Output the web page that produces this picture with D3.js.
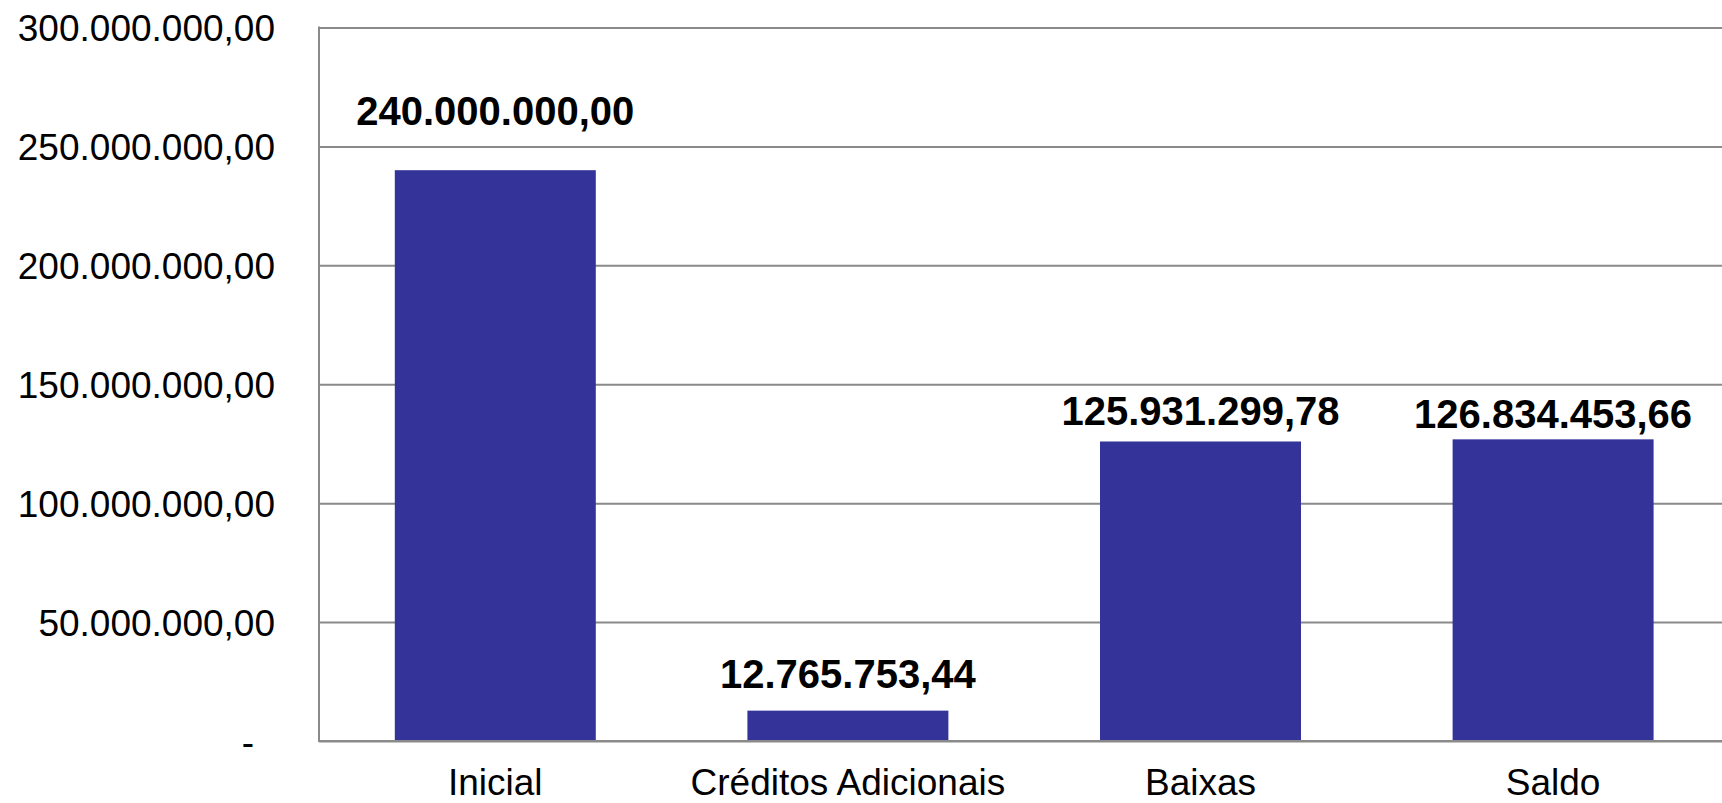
<!DOCTYPE html>
<html>
<head>
<meta charset="utf-8">
<script src="https://cdn.jsdelivr.net/npm/d3@7"></script>
<style>
  body { margin: 0; background: #fff; }
  svg { display: block; }
</style>
</head>
<body>
<svg width="1722" height="803"></svg>
<script>
// chart data
const categories = ["Inicial", "Créditos Adicionais", "Baixas", "Saldo"];
const values = [240000000.0, 12765753.44, 125931299.78, 126834453.66];
const yTicks = [0, 50000000, 100000000, 150000000, 200000000, 250000000, 300000000];

// brazilian number format
const locale = d3.formatLocale({
  decimal: ",",
  thousands: ".",
  grouping: [3],
  currency: ["R$", ""],
});
const fmt = locale.format(",.2f");

//selecting root svg
const svg = d3.select("svg");

//plot area
const plotLeft = 319;
const plotTop = 27.5;
const plotBottom = 741;
const plotRight = 1722;

//scales
const x = d3
  .scaleBand()
  .domain(categories)
  .range([plotLeft, plotLeft + 4 * 352.6])
  .paddingInner(0.43)
  .paddingOuter(0.215);
const y = d3.scaleLinear().domain([0, 300000000]).range([plotBottom, plotTop]);

//y axis with gridlines
const yAxis = svg
  .append("g")
  .attr("transform", `translate(${plotLeft},0)`)
  .call(
    d3
      .axisLeft(y)
      .tickValues(yTicks)
      .tickSize(-(plotRight - plotLeft))
      .tickPadding(44)
      .tickFormat((d) => (d === 0 ? "-" : fmt(d)))
  );
yAxis.select(".domain").remove();
yAxis
  .selectAll(".tick line")
  .attr("stroke", "#8a8a8a")
  .attr("stroke-width", 2);
yAxis
  .selectAll(".tick text")
  .attr("fill", "#000")
  .attr("font-size", 37)
  .attr("font-family", "'Liberation Sans', Arial, sans-serif")
  .attr("dy", "0.36em")
  .attr("dx", (d) => (d === 0 ? -21 : 0)); // zero dash sits left, like accounting format

//bars
svg
  .append("g")
  .selectAll("rect")
  .data(values)
  .join("rect")
  .attr("x", (d, i) => x(categories[i]))
  .attr("y", (d) => y(d))
  .attr("width", x.bandwidth())
  .attr("height", (d) => plotBottom - y(d))
  .attr("fill", "#333399");

//left axis line and baseline
svg
  .append("line")
  .attr("x1", plotLeft)
  .attr("x2", plotLeft)
  .attr("y1", plotTop - 1)
  .attr("y2", plotBottom + 1)
  .attr("stroke", "#8a8a8a")
  .attr("stroke-width", 2);
svg
  .append("line")
  .attr("x1", plotLeft)
  .attr("x2", plotRight)
  .attr("y1", plotBottom)
  .attr("y2", plotBottom)
  .attr("stroke", "#8a8a8a")
  .attr("stroke-width", 2);

// value labels above bars (first one sits higher in the original)
const labelLift = [45, 23, 16, 11];
svg
  .append("g")
  .selectAll("text")
  .data(values)
  .join("text")
  .text((d) => fmt(d))
  .attr("x", (d, i) => x(categories[i]) + x.bandwidth() / 2)
  .attr("y", (d, i) => y(d) - labelLift[i])
  .attr("text-anchor", "middle")
  .attr("fill", "#000")
  .attr("font-size", 40)
  .attr("font-weight", 700)
  .attr("font-family", "'Liberation Sans', Arial, sans-serif");

//category labels
svg
  .append("g")
  .selectAll("text")
  .data(categories)
  .join("text")
  .text((d) => d)
  .attr("x", (d) => x(d) + x.bandwidth() / 2)
  .attr("y", plotBottom + 54)
  .attr("text-anchor", "middle")
  .attr("fill", "#000")
  .attr("font-size", 37)
  .attr("font-family", "'Liberation Sans', Arial, sans-serif");
</script>
</body>
</html>
